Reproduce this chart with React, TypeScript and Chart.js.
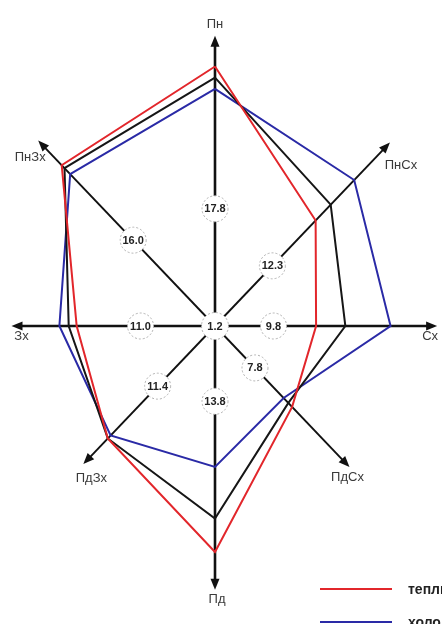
import { useEffect, useRef } from "react";
import { Chart, registerables } from "chart.js";

Chart.register(...registerables);

// ---- data ----
const directions = ["Пн", "ПнСх", "Сх", "ПдСх", "Пд", "ПдЗх", "Зх", "ПнЗх"];
const warmValues = [18.6, 10.7, 7.6, 8.2, 16.2, 11.4, 10.4, 16.3];
const coldValues = [17.0, 14.8, 13.2, 7.3, 10.1, 11.1, 11.7, 15.4];
const annualValues = [17.8, 12.3, 9.8, 7.8, 13.8, 11.4, 11.0, 16.0];
const calmValue = 1.2;
const seriesNames = ["теплий період", "холодний період", "рік"];
const seriesColors = ["#e2262b", "#2a2aa6", "#161616"];

// ---- layout (not data) ----
const AXIS_LEN = [20.8, 18.6, 16.7, 14.3, 18.9, 14.0, 15.3, 18.8];
const BADGE_R = [8.4, 6.1, 4.4, 4.25, 5.4, 6.1, 5.6, 8.7];
const LABEL_OFF: [number, number][] = [
  [0, -11],
  [11, 23],
  [-7, 10],
  [-2, 10],
  [2, 10],
  [8, 14],
  [10, 10],
  [-8, 17],
];
const CX = 215;
const CY = 326;
const PX_X = 13.3;
const PX_Y = 13.95;
const W = 442;
const H = 624;

function polar(values: number[]) {
  const pts = values.map((r, i) => {
    const a = (i * Math.PI) / 4;
    return { x: r * Math.sin(a), y: r * Math.cos(a) };
  });
  pts.push(pts[0]);
  return pts;
}

const axesPlugin = {
  id: "roseAxes",
  beforeDatasetsDraw(chart: any) {
    const { ctx } = chart;
    const xs = chart.scales.x;
    const ys = chart.scales.y;
    const cx = xs.getPixelForValue(0);
    const cy = ys.getPixelForValue(0);
    ctx.save();
    directions.forEach((d, i) => {
      const a = (i * Math.PI) / 4;
      const tx = xs.getPixelForValue(AXIS_LEN[i] * Math.sin(a));
      const ty = ys.getPixelForValue(AXIS_LEN[i] * Math.cos(a));
      const ang = Math.atan2(ty - cy, tx - cx);
      const headLen = 11;
      const headW = 4.5;
      const bx = tx - headLen * Math.cos(ang);
      const by = ty - headLen * Math.sin(ang);
      ctx.strokeStyle = "#111";
      ctx.fillStyle = "#111";
      ctx.lineWidth = i % 2 === 0 ? 2.6 : 1.9;
      ctx.beginPath();
      ctx.moveTo(cx, cy);
      ctx.lineTo(bx + 2 * Math.cos(ang), by + 2 * Math.sin(ang));
      ctx.stroke();
      ctx.beginPath();
      ctx.moveTo(tx, ty);
      ctx.lineTo(bx - headW * Math.sin(ang), by + headW * Math.cos(ang));
      ctx.lineTo(bx + headW * Math.sin(ang), by - headW * Math.cos(ang));
      ctx.closePath();
      ctx.fill();
      // direction label
      ctx.font = "13px 'Liberation Sans', Arial, sans-serif";
      ctx.fillStyle = "#3a3a3a";
      ctx.textAlign = "center";
      ctx.textBaseline = "middle";
      ctx.fillText(d, tx + LABEL_OFF[i][0], ty + LABEL_OFF[i][1]);
    });
    // badges
    const badge = (px: number, py: number, text: string, rad: number) => {
      ctx.beginPath();
      ctx.arc(px, py, rad, 0, Math.PI * 2);
      ctx.fillStyle = "#fff";
      ctx.fill();
      ctx.setLineDash([2, 2]);
      ctx.lineWidth = 1;
      ctx.strokeStyle = "#b0b0b0";
      ctx.stroke();
      ctx.setLineDash([]);
      ctx.font = "bold 11px 'Liberation Sans', Arial, sans-serif";
      ctx.fillStyle = "#222";
      ctx.textAlign = "center";
      ctx.textBaseline = "middle";
      ctx.fillText(text, px, py + 0.5);
    };
    annualValues.forEach((v, i) => {
      const a = (i * Math.PI) / 4;
      const px = xs.getPixelForValue(BADGE_R[i] * Math.sin(a));
      const py = ys.getPixelForValue(BADGE_R[i] * Math.cos(a));
      badge(px, py, v.toFixed(1), 13);
    });
    badge(cx, cy, calmValue.toFixed(1), 13.5);
    ctx.restore();
  },
  afterDraw(chart: any) {
    const { ctx } = chart;
    ctx.save();
    chart.data.datasets.forEach((ds: any, i: number) => {
      const y = 589 + i * 33;
      ctx.strokeStyle = ds.borderColor;
      ctx.lineWidth = 2;
      ctx.beginPath();
      ctx.moveTo(320, y);
      ctx.lineTo(392, y);
      ctx.stroke();
      ctx.font = "bold 14px 'Liberation Sans', Arial, sans-serif";
      ctx.fillStyle = "#222";
      ctx.textAlign = "left";
      ctx.textBaseline = "middle";
      ctx.fillText(ds.label, 408, y + 1);
    });
    ctx.restore();
  },
};

export default function App() {
  const ref = useRef<HTMLCanvasElement | null>(null);
  useEffect(() => {
    if (!ref.current) return;
    const series = [warmValues, coldValues, annualValues];
    const chart = new Chart(ref.current, {
      type: "scatter",
      data: {
        datasets: series.map((vals, i) => ({
          label: seriesNames[i],
          data: polar(vals),
          showLine: true,
          borderColor: seriesColors[i],
          backgroundColor: seriesColors[i],
          borderWidth: 2,
          pointRadius: 0,
          tension: 0,
          fill: false,
          order: i === 0 ? 0 : i === 2 ? 1 : 2,
        })),
      },
      options: {
        animation: false,
        responsive: false,
        maintainAspectRatio: false,
        layout: { padding: 0 },
        plugins: { legend: { display: false }, tooltip: { enabled: false } },
        scales: {
          x: { type: "linear", min: -CX / PX_X, max: (W - CX) / PX_X, display: false },
          y: { type: "linear", min: -(H - CY) / PX_Y, max: CY / PX_Y, display: false },
        },
      },
      plugins: [axesPlugin],
    });
    return () => chart.destroy();
  }, []);
  return (
    <div style={{ position: "fixed", left: 0, top: 0, width: W, height: H, background: "#fff" }}>
      <canvas ref={ref} width={W} height={H} />
    </div>
  );
}
